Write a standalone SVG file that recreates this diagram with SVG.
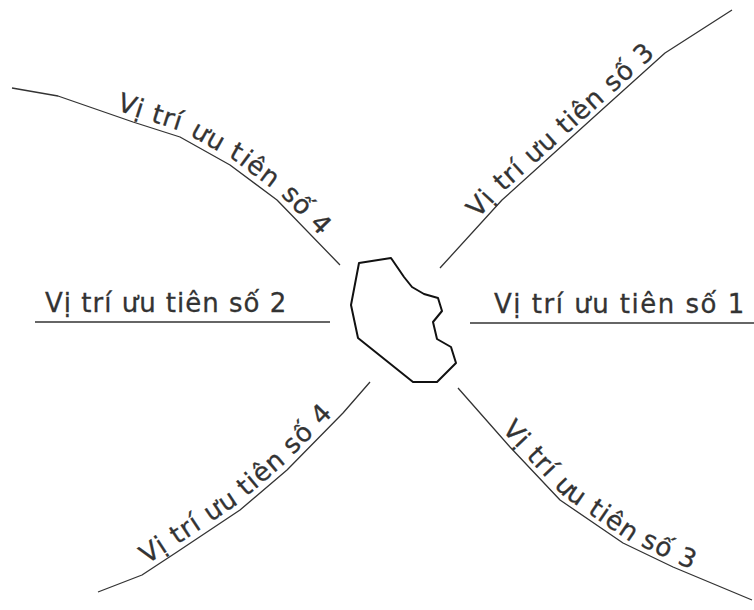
<svg xmlns="http://www.w3.org/2000/svg" xmlns:xlink="http://www.w3.org/1999/xlink" width="754" height="610" viewBox="0 0 754 610">
<style>
.ln{fill:none;stroke:#333;stroke-width:1.3;stroke-linejoin:round}
.lb{font-family:"DejaVu Sans","Liberation Sans",Arial,sans-serif;font-size:26px;fill:#333;stroke:#333;stroke-width:0.3;letter-spacing:1px}
.blob{fill:none;stroke:#111;stroke-width:2;stroke-linejoin:round}
</style>
<defs>
<path id="pUL" d="M12,88 L58,96 L133,122 L180,137 L230,165 L277,200 L340,265"/>
<path id="pUR" d="M440,268 L502,200 L605,107 L665,53 L732,10"/>
<path id="pLL" d="M98,592 L142,575 L177,552 L240,510 L287,470 L343,413 L370,382"/>
<path id="pLR" d="M458,388 L510,447 L560,500 L623,543 L673,567 L752,600"/>
</defs>
<rect width="754" height="610" fill="#fff"/>
<g id="connectors">
<use xlink:href="#pUL" class="ln"/>
<use xlink:href="#pUR" class="ln"/>
<use xlink:href="#pLL" class="ln"/>
<use xlink:href="#pLR" class="ln"/>
<line class="ln" x1="35" y1="322" x2="330" y2="322"/>
<line class="ln" x1="470" y1="323" x2="754" y2="323"/>
</g>
<g id="obstacle">
<path class="blob" d="M359,263 L391,258 L404,277 L412,287 L424,294 L438,298 L442,311 L433,322 L437,339 L451,347 L456,363 L437,382 L413,382 L358,338 L351,305 Z"/>
</g>
<g id="label-ul"><text class="lb" dy="-6"><textPath xlink:href="#pUL" startOffset="106">Vị trí ưu tiên số 4</textPath></text></g>
<g id="label-ur"><text class="lb" dy="-5"><textPath xlink:href="#pUR" startOffset="62">Vị trí ưu tiên số 3</textPath></text></g>
<g id="label-ll"><text class="lb" dy="-6"><textPath xlink:href="#pLL" startOffset="57">Vị trí ưu tiên số 4</textPath></text></g>
<g id="label-lr"><text class="lb" dy="-5"><textPath xlink:href="#pLR" startOffset="60">Vị trí ưu tiên số 3</textPath></text></g>
<g id="label-2"><text class="lb" x="45" y="312">Vị trí ưu tiên số 2</text></g>
<g id="label-1"><text class="lb" x="494" y="313" style="letter-spacing:1.5px">Vị trí ưu tiên số 1</text></g>
</svg>
